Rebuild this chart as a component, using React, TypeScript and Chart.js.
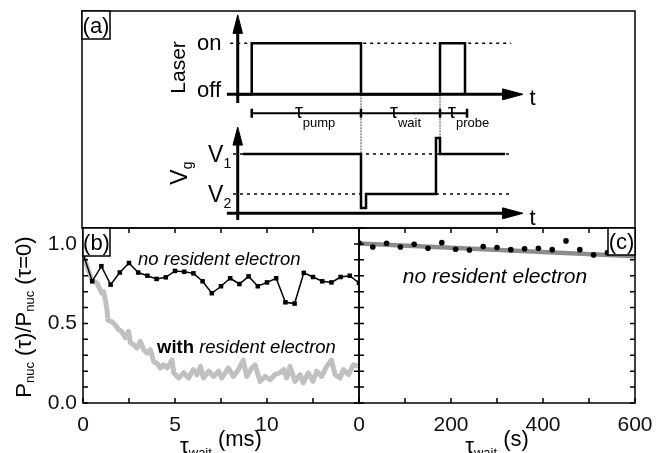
import React, { useEffect, useRef } from 'react';
import { Chart, registerables } from 'chart.js';

Chart.register(...registerables);

const FONT = '"Liberation Sans", Arial, Helvetica, sans-serif';

// ---------- Panel (a): pulse-sequence schematic (schematic units, 0–100 on both axes) ----------
const laserAxisX = [28.16, 28.16];
const laserAxisY = [57.6, 90.5];
const laserTimeX = [26.2, 77.0];
const laserTimeY = [61.6, 61.6];
const laserPulseX = [28.16, 30.69, 30.69, 50.45, 50.45, 64.74, 64.74, 69.26, 69.26];
const laserPulseY = [61.6, 61.6, 85.1, 85.1, 61.6, 61.6, 85.1, 85.1, 61.6];
const laserOnDotX = [26.8, 77.6];
const laserOnDotY = [85.1, 85.1];
const gateAxisX = [28.16, 28.16];
const gateAxisY = [3.7, 39.5];
const gateTimeX = [26.2, 77.0];
const gateTimeY = [6.77, 6.77];
const gateX = [29.11, 50.45, 50.45, 51.36, 51.36, 64.01, 64.01, 64.74, 64.74, 76.49];
const gateY = [34.1, 34.1, 9.2, 9.2, 15.67, 15.67, 41.5, 41.5, 34.1, 34.1];
const gateV1DotX = [27.3, 77.7];
const gateV1DotY = [34.1, 34.1];
const gateV2DotX = [27.3, 77.7];
const gateV2DotY = [15.67, 15.67];
const guide1X = [50.45, 50.45];
const guide1Y = [61.6, 9.7];
const guide2X = [64.74, 64.74];
const guide2Y = [61.6, 34.6];
const intervalX = [30.69, 50.45, 64.74, 69.62];
const intervalY = [52.9, 52.9, 52.9, 52.9];
const arrowUpX = [27.3, 28.16, 29.02, 27.3];
const laserArrowUpY = [89.7, 98.2, 89.7, 89.7];
const gateArrowUpY = [38.2, 46.5, 38.2, 38.2];
const arrowRightX = [76.1, 79.75, 76.1, 76.1];
const laserArrowRightY = [59.1, 61.6, 64.1, 59.1];
const gateArrowRightY = [4.27, 6.77, 9.27, 4.27];

// ---------- Panel (b): tau_wait in ms ----------
const noElecTimes = [0, 0.5, 1, 1.5, 2, 2.5, 3, 3.5, 4, 4.5, 5, 5.5, 6, 6.5, 7, 7.5, 8, 8.5, 9, 9.5, 10, 10.5, 11, 11.5, 12, 12.5, 13, 13.5, 14, 14.5, 15];
const noElecValues = [0.94, 0.765, 0.86, 0.744, 0.82, 0.88, 0.82, 0.8, 0.78, 0.79, 0.83, 0.825, 0.815, 0.765, 0.69, 0.734, 0.784, 0.748, 0.796, 0.734, 0.758, 0.784, 0.633, 0.625, 0.818, 0.792, 0.765, 0.758, 0.792, 0.8, 0.755];
const withElecTimes = [0, 0.5, 0.76, 0.94, 1.03, 1.12, 1.21, 1.3, 1.36, 1.58, 1.76, 1.94, 2.1, 2.3, 2.48, 2.57, 2.75, 2.93, 3.12, 3.3, 3.48, 3.66, 3.84, 4.02, 4.2, 4.38, 4.57, 4.84, 4.93, 5.2, 5.47, 5.74, 6.0, 6.2, 6.38, 6.55, 6.83, 7.1, 7.37, 7.54, 7.9, 8.17, 8.45, 8.71, 8.9, 9.17, 9.35, 9.62, 9.9, 10.16, 10.43, 10.7, 10.9, 11.07, 11.25, 11.52, 11.8, 11.97, 12.24, 12.5, 12.7, 12.97, 13.24, 13.5, 13.7, 13.97, 14.15, 14.43, 14.7, 15.0];
const withElecValues = [0.93, 0.77, 0.755, 0.71, 0.69, 0.7, 0.65, 0.587, 0.52, 0.51, 0.49, 0.46, 0.45, 0.41, 0.45, 0.38, 0.367, 0.346, 0.387, 0.335, 0.314, 0.335, 0.26, 0.25, 0.22, 0.24, 0.22, 0.27, 0.19, 0.157, 0.19, 0.157, 0.21, 0.178, 0.23, 0.157, 0.2, 0.167, 0.2, 0.157, 0.22, 0.167, 0.21, 0.27, 0.167, 0.22, 0.24, 0.136, 0.167, 0.146, 0.178, 0.19, 0.21, 0.157, 0.23, 0.136, 0.178, 0.126, 0.19, 0.136, 0.2, 0.167, 0.23, 0.27, 0.178, 0.157, 0.21, 0.178, 0.24, 0.23];
const bXTickLabels = [0, 5, 10];

// ---------- Panel (c): tau_wait in s ----------
const longTimes = [0, 30, 60, 90, 120, 150, 180, 210, 240, 270, 300, 330, 360, 390, 420, 450, 480, 510, 540];
const longValues = [1.005, 0.981, 1.004, 0.981, 0.998, 0.972, 1.008, 0.966, 0.962, 0.983, 0.977, 0.964, 0.97, 0.972, 0.964, 1.019, 0.964, 0.931, 0.945];
const fitTimes = [0, 600];
const fitValues = [1.003, 0.922];
const cXTickLabels = [0, 200, 400, 600];

const yTickLabels = [0, 0.5, 1.0];

type Part = { t: string; size: number; dy?: number; weight?: string; style?: string };
type TextItem = { parts: Part[]; x: number; y: number; align?: 'left' | 'center' | 'right'; rot?: number; data?: boolean };
type BoxItem = { label: string; right?: boolean; w: number; h: number };

const pts = (xs: number[], ys: number[]) => xs.map((x, i) => ({ x, y: ys[i] }));

function drawParts(ctx: CanvasRenderingContext2D, parts: Part[], x: number, y: number, align: string, rot: number) {
  ctx.save();
  ctx.translate(x, y);
  if (rot) ctx.rotate(rot);
  ctx.textBaseline = 'alphabetic';
  ctx.textAlign = 'left';
  ctx.fillStyle = '#000';
  const fontOf = (p: Part) => `${p.style || 'normal'} ${p.weight || 'normal'} ${p.size}px ${FONT}`;
  let total = 0;
  const widths = parts.map((p) => {
    ctx.font = fontOf(p);
    const w = ctx.measureText(p.t).width;
    total += w;
    return w;
  });
  let cx = align === 'left' ? 0 : align === 'center' ? -total / 2 : -total;
  parts.forEach((p, i) => {
    ctx.font = fontOf(p);
    ctx.fillText(p.t, cx, p.dy || 0);
    cx += widths[i];
  });
  ctx.restore();
}

function tickValues(scale: any): number[] {
  const step = scale.options.ticks.stepSize;
  const out: number[] = [];
  const n = Math.round((scale.max - scale.min) / step);
  for (let i = 0; i <= n; i++) out.push(scale.min + i * step);
  return out;
}

function framePlugin(withTicks: boolean, boxes: BoxItem[], texts: TextItem[]) {
  return {
    id: 'frameAndText',
    afterDraw(chart: any) {
      const { ctx, chartArea: a, scales } = chart;
      ctx.save();
      ctx.strokeStyle = '#000';
      ctx.lineWidth = 1.5;
      ctx.setLineDash([]);
      if (withTicks) {
        const L = 5;
        ctx.beginPath();
        const xs = scales.x;
        tickValues(xs).forEach((v) => {
          const p = xs.getPixelForValue(v);
          ctx.moveTo(p, a.bottom);
          ctx.lineTo(p, a.bottom - L);
          ctx.moveTo(p, a.top);
          ctx.lineTo(p, a.top + L);
        });
        const ys = scales.y;
        tickValues(ys).forEach((v) => {
          const p = ys.getPixelForValue(v);
          ctx.moveTo(a.left, p);
          ctx.lineTo(a.left + L, p);
          ctx.moveTo(a.right, p);
          ctx.lineTo(a.right - L, p);
        });
        ctx.stroke();
      }
      ctx.strokeRect(a.left, a.top, a.right - a.left, a.bottom - a.top);
      boxes.forEach((b) => {
        const bx = b.right ? a.right - b.w : a.left;
        const by = a.top;
        ctx.fillStyle = '#fff';
        ctx.fillRect(bx, by, b.w, b.h);
        ctx.strokeRect(bx, by, b.w, b.h);
        ctx.fillStyle = '#000';
        ctx.font = `22px ${FONT}`;
        ctx.textAlign = 'center';
        ctx.textBaseline = 'alphabetic';
        ctx.fillText(b.label, bx + b.w / 2, by + b.h - 6);
      });
      ctx.restore();
      texts.forEach((it) => {
        let x = it.x;
        let y = it.y;
        if (it.data) {
          x = scales.x.getPixelForValue(it.x);
          y = scales.y.getPixelForValue(it.y);
        }
        drawParts(ctx, it.parts, x, y, it.align || 'left', it.rot || 0);
      });
    },
  };
}

const tickFont = { family: FONT, size: 21 };

function cfgA(): any {
  const line = (xs: number[], ys: number[], w: number, extra: any = {}) => ({
    data: pts(xs, ys),
    borderColor: '#000',
    borderWidth: w,
    pointRadius: 0,
    tension: 0,
    borderJoinStyle: 'miter',
    borderCapStyle: 'butt',
    ...extra,
  });
  const arrow = (xs: number[], ys: number[]) => line(xs, ys, 1, { fill: 'shape', backgroundColor: '#000' });
  const texts: TextItem[] = [
    { parts: [{ t: 'on', size: 22 }], x: 20.8, y: 82.0, data: true },
    { parts: [{ t: 'off', size: 22 }], x: 20.8, y: 60.4, data: true },
    { parts: [{ t: 'Laser', size: 21 }], x: 18.6, y: 74.0, align: 'center', rot: -Math.PI / 2, data: true },
    { parts: [{ t: 't', size: 22 }], x: 80.9, y: 56.7, data: true },
    { parts: [{ t: 't', size: 22 }], x: 80.9, y: 1.4, data: true },
    { parts: [{ t: 'V', size: 23 }, { t: '1', size: 14, dy: 6 }], x: 22.8, y: 30.4, data: true },
    { parts: [{ t: 'V', size: 23 }, { t: '2', size: 14, dy: 6 }], x: 22.8, y: 12.0, data: true },
    { parts: [{ t: 'V', size: 23 }, { t: 'g', size: 14, dy: 5 }], x: 19.0, y: 25.3, align: 'center', rot: -Math.PI / 2, data: true },
    { parts: [{ t: 'τ', size: 20 }, { t: 'pump', size: 13, dy: 9 }], x: 38.5, y: 50.7, data: true },
    { parts: [{ t: 'τ', size: 20 }, { t: 'wait', size: 13, dy: 9 }], x: 55.7, y: 50.7, data: true },
    { parts: [{ t: 'τ', size: 20 }, { t: 'probe', size: 13, dy: 9 }], x: 66.2, y: 50.7, data: true },
  ];
  return {
    type: 'line',
    data: {
      datasets: [
        line(laserPulseX, laserPulseY, 2.5),
        line(gateX, gateY, 2.5),
        line(laserAxisX, laserAxisY, 3),
        line(laserTimeX, laserTimeY, 3),
        line(gateAxisX, gateAxisY, 3),
        line(gateTimeX, gateTimeY, 3),
        arrow(arrowUpX, laserArrowUpY),
        arrow(arrowUpX, gateArrowUpY),
        arrow(arrowRightX, laserArrowRightY),
        arrow(arrowRightX, gateArrowRightY),
        line(intervalX, intervalY, 2, { pointStyle: 'line', pointRotation: 90, pointRadius: 4.5, pointBorderWidth: 2.5, pointBorderColor: '#000' }),
        line(laserOnDotX, laserOnDotY, 1.5, { borderDash: [3, 4] }),
        line(gateV1DotX, gateV1DotY, 1.5, { borderDash: [3, 4] }),
        line(gateV2DotX, gateV2DotY, 1.5, { borderDash: [3, 4] }),
        line(guide1X, guide1Y, 1, { borderDash: [2, 1], borderColor: '#444' }),
        line(guide2X, guide2Y, 1, { borderDash: [2, 1], borderColor: '#444' }),
      ],
    },
    options: {
      responsive: false,
      animation: false,
      devicePixelRatio: 1,
      layout: { padding: { left: 82, top: 11, right: 32, bottom: 225 } },
      plugins: { legend: { display: false }, tooltip: { enabled: false } },
      scales: {
        x: { type: 'linear', min: 0, max: 100, display: false },
        y: { type: 'linear', min: 0, max: 100, display: false },
      },
    },
    plugins: [framePlugin(false, [{ label: '(a)', w: 28, h: 28 }], texts)],
  };
}

function yAxisOpts(showLabels: boolean): any {
  return {
    type: 'linear',
    min: 0,
    max: 1.1,
    display: true,
    grid: { display: false, drawTicks: false },
    border: { display: false },
    ticks: {
      display: showLabels,
      stepSize: 0.1,
      padding: 6,
      font: tickFont,
      color: '#111',
      autoSkip: false,
      callback: (v: number) => (yTickLabels.some((l) => Math.abs(l - v) < 1e-6) ? v.toFixed(1) : ''),
    },
    afterFit: (s: any) => {
      s.width = showLabels ? 60 : 0;
    },
  };
}

function xAxisOpts(max: number, step: number, labels: number[]): any {
  return {
    type: 'linear',
    min: 0,
    max,
    grid: { display: false, drawTicks: false },
    border: { display: false },
    ticks: {
      stepSize: step,
      padding: 10,
      maxRotation: 0,
      autoSkip: false,
      font: tickFont,
      color: '#111',
      callback: (v: number) => (labels.some((l) => Math.abs(l - v) < 1e-6) ? String(v) : ''),
    },
    afterFit: (s: any) => {
      s.height = 50;
    },
  };
}

function cfgB(): any {
  const texts: TextItem[] = [
    {
      parts: [
        { t: 'P', size: 22 },
        { t: 'nuc', size: 13, dy: 3 },
        { t: ' (τ)/P', size: 22 },
        { t: 'nuc', size: 13, dy: 3 },
        { t: ' (τ=0)', size: 22 },
      ],
      x: 31,
      y: 317,
      align: 'center',
      rot: -Math.PI / 2,
    },
    {
      parts: [
        { t: 'τ', size: 22, dy: 7 },
        { t: 'wait', size: 13, dy: 11 },
        { t: ' (ms)', size: 22 },
      ],
      x: 221,
      y: 446,
      align: 'center',
    },
    { parts: [{ t: 'no resident electron', size: 18.5, style: 'italic' }], x: 138, y: 265 },
    {
      parts: [
        { t: 'with', size: 18.5, weight: 'bold' },
        { t: ' resident electron', size: 18.5, style: 'italic' },
      ],
      x: 157,
      y: 353,
    },
  ];
  return {
    type: 'line',
    data: {
      datasets: [
        {
          data: pts(noElecTimes, noElecValues),
          borderColor: '#000',
          borderWidth: 1.5,
          pointStyle: 'rect',
          pointRadius: 3.2,
          pointBackgroundColor: '#000',
          pointBorderWidth: 0,
          tension: 0,
        },
        {
          data: pts(withElecTimes, withElecValues),
          borderColor: '#c0c0c0',
          borderWidth: 5,
          pointRadius: 0,
          tension: 0,
          borderJoinStyle: 'round',
        },
      ],
    },
    options: {
      responsive: false,
      animation: false,
      devicePixelRatio: 1,
      layout: { padding: { left: 23, top: 228, right: 308, bottom: 0 } },
      plugins: { legend: { display: false }, tooltip: { enabled: false } },
      scales: { x: xAxisOpts(15, 2.5, bXTickLabels), y: yAxisOpts(true) },
    },
    plugins: [framePlugin(true, [{ label: '(b)', w: 27, h: 28 }], texts)],
  };
}

function cfgC(): any {
  const texts: TextItem[] = [
    {
      parts: [
        { t: 'τ', size: 22, dy: 7 },
        { t: 'wait', size: 13, dy: 11 },
        { t: ' (s)', size: 22 },
      ],
      x: 497,
      y: 446,
      align: 'center',
    },
    { parts: [{ t: 'no resident electron', size: 21, style: 'italic' }], x: 495, y: 283, align: 'center' },
  ];
  return {
    type: 'line',
    data: {
      datasets: [
        {
          data: pts(longTimes, longValues),
          showLine: false,
          pointStyle: 'circle',
          pointRadius: 2.8,
          pointBackgroundColor: '#000',
          pointBorderWidth: 0,
        },
        {
          data: pts(fitTimes, fitValues),
          borderColor: '#8c8c8c',
          borderWidth: 4.5,
          pointRadius: 0,
          tension: 0,
        },
      ],
    },
    options: {
      responsive: false,
      animation: false,
      devicePixelRatio: 1,
      layout: { padding: { left: 359, top: 228, right: 32, bottom: 0 } },
      plugins: { legend: { display: false }, tooltip: { enabled: false } },
      scales: { x: xAxisOpts(600, 100, cXTickLabels), y: yAxisOpts(false) },
    },
    plugins: [framePlugin(true, [{ label: '(c)', right: true, w: 27, h: 27 }], texts)],
  };
}

export default function App() {
  const refA = useRef<HTMLCanvasElement>(null);
  const refB = useRef<HTMLCanvasElement>(null);
  const refC = useRef<HTMLCanvasElement>(null);
  useEffect(() => {
    const charts = [
      new Chart(refA.current as HTMLCanvasElement, cfgA()),
      new Chart(refB.current as HTMLCanvasElement, cfgB()),
      new Chart(refC.current as HTMLCanvasElement, cfgC()),
    ];
    return () => charts.forEach((c) => c.destroy());
  }, []);
  const st: React.CSSProperties = { position: 'absolute', left: 0, top: 0, width: 667, height: 453 };
  return (
    <div style={{ position: 'fixed', left: 0, top: 0, width: 667, height: 453, background: '#fff' }}>
      <canvas ref={refA} width={667} height={453} style={st} />
      <canvas ref={refB} width={667} height={453} style={st} />
      <canvas ref={refC} width={667} height={453} style={st} />
    </div>
  );
}
